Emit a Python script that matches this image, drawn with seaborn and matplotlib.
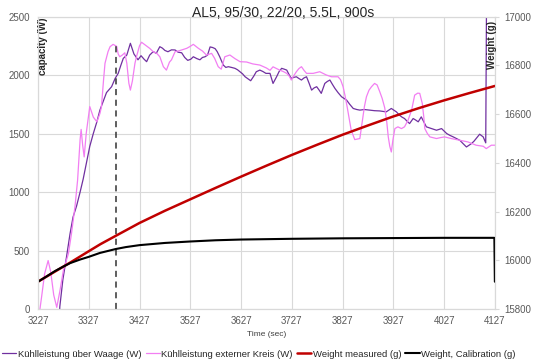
#!/usr/bin/env python3
"""
Cooling capacity vs. weight, run AL5 (95/30, 22/20, 5.5L, 900s).
"""
import numpy as np
import pandas as pd
import matplotlib
matplotlib.use("Agg")
import matplotlib.pyplot as plt
import seaborn as sns

# --- data --------------------------------------------------------------------
# Kühlleistung über Waage (W)
waage_t = [3227, 3228, 3266, 3270, 3276, 3283, 3290, 3296, 3303, 3310, 3316, 3323, 3329,
           3336, 3343, 3349, 3356, 3362, 3372, 3379, 3385, 3390, 3395, 3402, 3409, 3416,
           3424, 3430, 3436, 3441, 3447, 3454, 3460, 3467, 3472, 3477, 3483, 3490, 3497,
           3503, 3510, 3516, 3522, 3528, 3533, 3540, 3546, 3551, 3556, 3561, 3566, 3571,
           3576, 3580, 3585, 3592, 3597, 3602, 3608, 3615, 3620, 3625, 3630, 3635, 3640,
           3646, 3652, 3657, 3664, 3670, 3676, 3684, 3690, 3697, 3702, 3707, 3712, 3717,
           3722, 3726, 3731, 3736, 3741, 3746, 3751, 3756, 3761, 3766, 3771, 3776, 3781,
           3785, 3792, 3797, 3802, 3807, 3812, 3818, 3825, 3830, 3835, 3841, 3848, 3855,
           3861, 3870, 3881, 3890, 3900, 3913, 3923, 3928, 3933, 3939, 3944, 3949, 3954,
           3959, 3966, 3971, 3976, 3982, 3987, 3992, 4002, 4012, 4022, 4032, 4038, 4045,
           4052, 4058, 4064, 4071, 4076, 4081, 4086, 4090, 4097, 4104, 4109, 4111]
waage_w = [185, -500, -400, 20, 250, 440, 640, 785, 880, 1000, 1110, 1260, 1390,
           1500, 1600, 1700, 1780, 1850, 1900, 1971, 2014, 2080, 2142, 2171, 2271, 2180,
           2130, 2165, 2135, 2114, 2170, 2200, 2185, 2242, 2230, 2210, 2199, 2215, 2214,
           2195, 2190, 2150, 2125, 2135, 2156, 2140, 2130, 2150, 2156, 2170, 2240, 2235,
           2225, 2200, 2156, 2085, 2065, 2071, 2065, 2057, 2045, 2028, 2010, 1985, 1970,
           1951, 1990, 2028, 2042, 2030, 2014, 2014, 1928, 1985, 2030, 2057, 2050, 2042,
           2000, 1971, 1980, 1985, 1970, 1957, 1975, 1985, 1930, 1871, 1890, 1900, 1870,
           1843, 1928, 1945, 1957, 1920, 1885, 1850, 1814, 1800, 1785, 1750, 1714, 1705,
           1700, 1705, 1700, 1695, 1693, 1685, 1714, 1700, 1685, 1657, 1640, 1628, 1605,
           1585, 1628, 1615, 1600, 1642, 1600, 1557, 1542, 1528, 1542, 1500, 1485, 1471,
           1455, 1442, 1415, 1385, 1400, 1414, 1435, 1457, 1494, 1471, 1420, 3000]

# Kühlleistung externer Kreis (W)
extern_t = [3229, 3234, 3240, 3247, 3252, 3258, 3264, 3270, 3277, 3287, 3293, 3300, 3305,
            3310, 3312, 3315, 3318, 3322, 3329, 3336, 3343, 3349, 3352, 3356, 3359, 3365,
            3369, 3375, 3382, 3385, 3388, 3393, 3398, 3402, 3406, 3409, 3413, 3418, 3421,
            3427, 3431, 3438, 3447, 3454, 3461, 3467, 3474, 3480, 3486, 3490, 3497, 3503,
            3510, 3520, 3527, 3533, 3543, 3551, 3559, 3569, 3575, 3582, 3588, 3595, 3605,
            3615, 3625, 3638, 3650, 3664, 3677, 3684, 3690, 3697, 3703, 3710, 3717, 3722,
            3726, 3731, 3736, 3741, 3746, 3751, 3756, 3769, 3782, 3795, 3805, 3818, 3823,
            3828, 3832, 3836, 3840, 3844, 3851, 3861, 3864, 3867, 3870, 3874, 3879, 3884,
            3890, 3895, 3900, 3905, 3910, 3914, 3917, 3920, 3923, 3926, 3930, 3936, 3943,
            3949, 3956, 3963, 3969, 3975, 3979, 3984, 3987, 3989, 3994, 3999, 4012, 4020,
            4028, 4041, 4058, 4074, 4090, 4104, 4110, 4120, 4127]
extern_w = [-60, 100, 300, 414, 320, 120, 14, 150, 330, 474, 645, 880, 1100,
            1450, 1535, 1400, 1300, 1500, 1730, 1640, 1600, 1671, 1728, 1950, 2100, 2200,
            2242, 2262, 2245, 2180, 2156, 2170, 2190, 2100, 1930, 1871, 1950, 2100, 2156,
            2250, 2280, 2257, 2228, 2199, 2185, 2156, 2071, 2042, 2110, 2130, 2199, 2205,
            2214, 2228, 2245, 2262, 2228, 2205, 2170, 2185, 2142, 2071, 2050, 2156, 2171,
            2140, 2114, 2111, 2095, 2085, 2060, 2040, 2070, 2055, 2042, 2030, 2014, 1990,
            1957, 1995, 2028, 2055, 2071, 2040, 2014, 2014, 2028, 2000, 1985, 1985, 1960,
            1900, 1820, 1728, 1630, 1528, 1448, 1457, 1550, 1642, 1730, 1814, 1870, 1900,
            1928, 1915, 1860, 1800, 1720, 1600, 1471, 1390, 1342, 1440, 1542, 1557, 1542,
            1557, 1614, 1700, 1828, 1845, 1843, 1757, 1640, 1542, 1500, 1471, 1457, 1465,
            1471, 1457, 1442, 1428, 1400, 1391, 1371, 1400, 1400]

# Weight measured (g)
meas_t = [3227, 3260, 3290, 3327, 3350, 3380, 3427, 3477, 3527, 3577, 3627, 3677, 3727,
          3777, 3827, 3877, 3927, 3977, 4027, 4077, 4127]
meas_g = [15912, 15953, 15990, 16037, 16066, 16100, 16153, 16203, 16250, 16297, 16343,
          16388, 16432, 16474, 16515, 16553, 16590, 16624, 16656, 16686, 16715]

# Weight, Calibration (g)
calib_t = [3227, 3245, 3260, 3275, 3290, 3310, 3327, 3349, 3380, 3400, 3427, 3477, 3527,
           3577, 3627, 3727, 3827, 3927, 4027, 4126, 4127]
calib_g = [15912, 15935, 15955, 15972, 15988, 16003, 16014, 16030, 16046, 16054, 16062,
           16071, 16077, 16082, 16085, 16088, 16090, 16091, 16092, 16092, 15912]

# marker of the end of the start phase
mark_t = 3380
mark_w = 2245

title = "AL5, 95/30, 22/20, 5.5L, 900s"
x_ticks = list(range(3227, 4128, 100))
w_ticks = [0, 500, 1000, 1500, 2000, 2500]
g_ticks = [15800, 16000, 16200, 16400, 16600, 16800, 17000]

lbl_waage = "Kühlleistung über Waage (W)"
lbl_extern = "Kühlleistung externer Kreis (W)"
lbl_meas = "Weight measured (g)"
lbl_calib = "Weight, Calibration (g)"

# --- style ---------------------------------------------------------------------
sns.set_style("whitegrid")
plt.rcParams["font.family"] = ["Liberation Sans", "DejaVu Sans"]
TICK_C = "#595959"
GRID_C = "#d9d9d9"

df_waage = pd.DataFrame({"t": waage_t, "v": waage_w})
df_extern = pd.DataFrame({"t": extern_t, "v": extern_w})
df_meas = pd.DataFrame({"t": meas_t, "v": meas_g})
df_calib = pd.DataFrame({"t": calib_t, "v": calib_g})

fig = plt.figure(figsize=(5.35, 3.62), dpi=100)
ax = fig.add_axes([0.071, 0.1464, 0.854, 0.808])
ax2 = ax.twinx()

sns.lineplot(data=df_waage, x="t", y="v", ax=ax, color="#7030a0", linewidth=0.9,
             sort=False, estimator=None, label=lbl_waage, legend=False)
sns.lineplot(data=df_extern, x="t", y="v", ax=ax, color="#f27ef2", linewidth=0.9,
             sort=False, estimator=None, label=lbl_extern, legend=False)
ax.plot([mark_t, mark_t], [0, mark_w], color="#333333", linestyle=(0, (4, 3)), linewidth=1.1)

sns.lineplot(data=df_meas, x="t", y="v", ax=ax2, color="#c00000", linewidth=1.8,
             sort=False, estimator=None, label=lbl_meas, legend=False)
sns.lineplot(data=df_calib, x="t", y="v", ax=ax2, color="black", linewidth=1.5,
             sort=False, estimator=None, label=lbl_calib, legend=False)

ax.set_xlim(3227, 4127)
ax.set_ylim(0, 2500)
ax2.set_ylim(15800, 17000)
ax.set_xticks(x_ticks)
ax.set_yticks(w_ticks)
ax2.set_yticks(g_ticks)
ax2.grid(False)
ax.grid(True, color=GRID_C, linewidth=0.8)
ax.set_axisbelow(True)

for a in (ax, ax2):
    for s in a.spines.values():
        s.set_color(GRID_C)
        s.set_linewidth(0.8)

ax.tick_params(axis="both", labelsize=7, colors=TICK_C, length=0, pad=6)
ax.tick_params(axis="x", pad=5)
ax2.tick_params(axis="y", labelsize=7, colors=TICK_C, length=3, color=GRID_C, pad=4)

ax.set_xlabel("Time (sec)", fontsize=6, color="#404040", labelpad=1)
ax.xaxis.set_label_coords(0.5, -0.075)
ax.set_ylabel("")
ax2.set_ylabel("")

ax.text(0.012, 0.995, "capacity (W)", transform=ax.transAxes, rotation=90,
        ha="center", va="top", fontsize=7, fontweight="bold")
ax2.text(0.9934, 0.985, "Weight (g)", transform=ax2.transAxes, rotation=90,
         ha="center", va="top", fontsize=7, fontweight="bold")

fig.text(0.53, 0.965, title, ha="center", va="center", fontsize=10)

h1, l1 = ax.get_legend_handles_labels()
h2, l2 = ax2.get_legend_handles_labels()
fig.legend(h1 + h2, l1 + l2, loc="center left", bbox_to_anchor=(0.004, 0.022), ncol=4,
           frameon=False, fontsize=6.8, handlelength=1.5, handletextpad=0.15,
           columnspacing=0.45, borderpad=0, borderaxespad=0)

fig.savefig("out.png", dpi=100)
plt.close(fig)
